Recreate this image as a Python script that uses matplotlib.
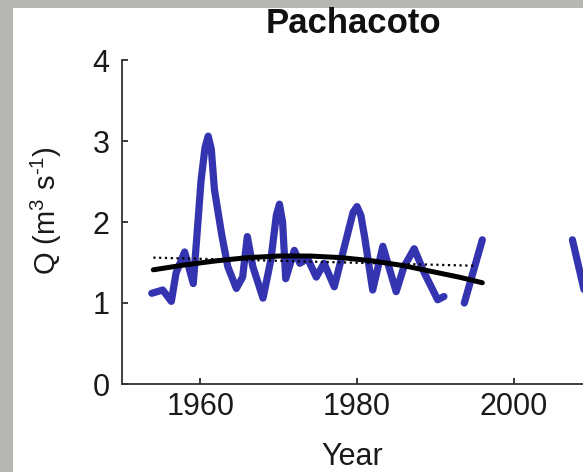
import numpy as np
import matplotlib
matplotlib.use("Agg")
import matplotlib.pyplot as plt
from matplotlib.patches import Rectangle

plt.rcParams['font.family'] = ['Liberation Sans', 'DejaVu Sans']
plt.rcParams['mathtext.fontset'] = 'custom'
plt.rcParams['mathtext.rm'] = 'Liberation Sans'
plt.rcParams['mathtext.it'] = 'Liberation Sans:italic'
plt.rcParams['mathtext.bf'] = 'Liberation Sans:bold'

# Blue discharge series (NaN = gap)
years = [1953.8, 1955.2, 1956.3, 1956.9, 1958.0, 1959.1, 1960.1, 1960.6, 1961.0, 1961.4,
         1961.8, 1962.7, 1963.5, 1964.6, 1965.4, 1966.0, 1966.7, 1968.0, 1969.0, 1969.7,
         1970.1, 1970.5, 1970.9, 1972.0, 1972.7, 1973.7, 1974.8, 1975.8, 1977.1, 1978.4,
         1979.5, 1980.0, 1980.5, 1981.0, 1982.0, 1983.3, 1985.0, 1986.0, 1987.3, 1988.6,
         1990.3, 1991.1, np.nan, 1993.7, 1996.0, np.nan, 2007.5, 2009.5]
flow = [1.12, 1.16, 1.02, 1.37, 1.63, 1.24, 2.52, 2.92, 3.06, 2.90,
        2.40, 1.86, 1.45, 1.18, 1.32, 1.82, 1.45, 1.06, 1.53, 2.08,
        2.22, 2.00, 1.30, 1.65, 1.49, 1.55, 1.32, 1.49, 1.20, 1.70,
        2.12, 2.19, 2.08, 1.80, 1.16, 1.70, 1.14, 1.45, 1.67, 1.37,
        1.04, 1.08, np.nan, 1.00, 1.78, np.nan, 1.78, 0.95]

# Black smooth trend curve
trend_years = [1954, 1958, 1962, 1966, 1970, 1974, 1978, 1982, 1986, 1990, 1993, 1996]
trend_vals = [1.41, 1.47, 1.52, 1.56, 1.58, 1.58, 1.56, 1.52, 1.46, 1.38, 1.32, 1.25]

# Dotted linear line
lin_years = [1954, 1995]
lin_vals = [1.56, 1.46]

xticks = [1960, 1980, 2000]
yticks = [0, 1, 2, 3, 4]

W, H = 583, 472
fig = plt.figure(figsize=(W / 100, H / 100), dpi=100)
fig.patch.set_facecolor('#b6b6b2')
fig.patches.append(Rectangle((13 / W, 0), 1 - 13 / W, 1 - 8 / H, transform=fig.transFigure,
                             facecolor='white', edgecolor='none', zorder=-10))

ax = fig.add_axes([122 / W, 88 / H, 470 / W, 324 / H])
ax.set_zorder(1)
ax.set_facecolor('white')
ax.plot(years, flow, color='#3434b0', lw=5.2, solid_capstyle='round', solid_joinstyle='round', zorder=2)
ax.plot(lin_years, lin_vals, color='black', lw=1.6, linestyle=(0, (1, 1.6)), zorder=3)
ax.plot(trend_years, trend_vals, color='black', lw=3.6, solid_capstyle='round', zorder=4)

ax.set_xlim(1950, 2010)
ax.set_ylim(0, 4)
ax.set_xticks(xticks)
ax.set_yticks(yticks)
for s in ['top', 'right']:
    ax.spines[s].set_visible(False)
for s in ['left', 'bottom']:
    ax.spines[s].set_linewidth(1.3)
    ax.spines[s].set_color('#333333')
ax.tick_params(direction='in', length=4, width=1.2, labelsize=22, colors='#1a1a1a')
ax.tick_params(axis='y', pad=9)
ax.tick_params(axis='x', pad=6)

fig.text(353 / W, 1 - 33 / H, 'Pachacoto', ha='center', va='baseline',
         fontsize=25, fontweight='bold', color='#111111')
fig.text(352 / W, 1 - 465 / H, 'Year', ha='center', va='baseline', fontsize=22, color='#1a1a1a')
fig.text(46 / W, 1 - 211 / H, 'Q (m$^3$ s$^{‐1}$)', ha='center', va='center', rotation=90,
         fontsize=21, color='#1a1a1a')

fig.savefig('out.png', dpi=100, facecolor=fig.get_facecolor())
